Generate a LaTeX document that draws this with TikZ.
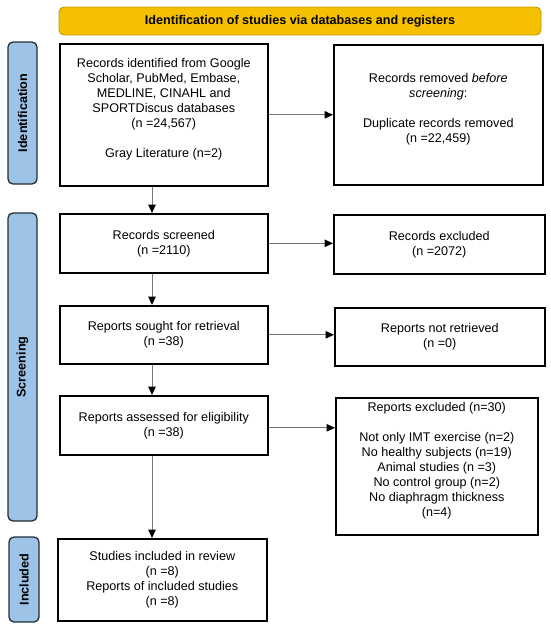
\documentclass[tikz,border=0pt]{standalone}
\usepackage{fontspec}
\setmainfont{Liberation Sans}
\usetikzlibrary{arrows.meta}
\definecolor{gold}{RGB}{245,192,0}
\definecolor{goldline}{RGB}{191,150,0}
\definecolor{phase}{RGB}{157,195,230}
\definecolor{phaseline}{RGB}{35,45,55}
\definecolor{arrowgray}{RGB}{120,120,120}
\begin{document}
\begin{tikzpicture}[x=1pt,y=-1pt,
  every node/.style={font=\fontsize{12.6}{15}\selectfont, inner sep=0pt},
  box/.style={draw=black, line width=1.6pt, fill=white, align=center, anchor=north west},
  lift/.style={text depth=#1},
  phasebox/.style={draw=phaseline, line width=1.3pt, fill=phase, rounded corners=5pt,
    rotate=90, font=\bfseries\fontsize{12.6}{15}\selectfont},
  titlebox/.style={draw=goldline, line width=0.8pt, fill=gold, rounded corners=5pt,
    font=\bfseries\fontsize{12.6}{15}\selectfont},
  flow/.style={draw=arrowgray, line width=1pt,
    -{Triangle[length=8.5pt,width=7.5pt,color=black,fill=black]}}
]
\useasboundingbox (0,0) rectangle (550,629);

% title bar
\node[titlebox, minimum width=482pt, minimum height=28pt] (title) at (300,21)
  {Identification of studies via databases and registers};

% phase labels
\node[phasebox, minimum width=142pt, minimum height=29pt] (phid) at (22.5,113) {Identification};
\node[phasebox, minimum width=308pt, minimum height=29pt] (phscr) at (22.5,367) {Screening};
\node[phasebox, minimum width=85pt, minimum height=30pt] (phinc) at (24,579.5) {Included};

% left column
\node[box, lift=14.7pt, minimum width=208pt, minimum height=142pt] (id) at (59,43)
  {Records identified from Google\\Scholar, PubMed, Embase,\\MEDLINE, CINAHL and\\SPORTDiscus databases\\(n =24,567)\\[15pt]Gray Literature (n=2)};
\node[box, minimum width=208pt, minimum height=59pt] (screened) at (59,213)
  {Records screened\\(n =2110)};
\node[box, minimum width=208pt, minimum height=58pt] (sought) at (59,305)
  {Reports sought for retrieval\\(n =38)};
\node[box, minimum width=208pt, minimum height=59pt] (assessed) at (59,395)
  {Reports assessed for eligibility\\(n =38)};
\node[box, minimum width=209pt, minimum height=82pt] (included) at (57,538)
  {Studies included in review\\(n =8)\\Reports of included studies\\(n =8)};

% right column
\node[box, lift=14.7pt, minimum width=209pt, minimum height=140pt] (removed) at (333,44)
  {Records removed \textit{before}\\\textit{screening}:\\[15pt]Duplicate records removed\\(n =22,459)};
\node[box, minimum width=211pt, minimum height=59pt] (excluded) at (333,214)
  {Records excluded\\(n =2072)};
\node[box, minimum width=210pt, minimum height=58pt] (notret) at (334,307)
  {Reports not retrieved\\(n =0)};
\node[box, lift=13.7pt, minimum width=202pt, minimum height=137pt] (repexcl) at (335,397)
  {Reports excluded (n=30)\\[15pt]Not only IMT exercise (n=2)\\No healthy subjects (n=19)\\Animal studies (n =3)\\No control group (n=2)\\No diaphragm thickness\\(n=4)};

% connectors
\coordinate (vx) at (152,0);
\draw[flow] (id.south -| vx) -- (screened.north -| vx);
\draw[flow] (screened.south -| vx) -- (sought.north -| vx);
\draw[flow] (sought.south -| vx) -- (assessed.north -| vx);
\draw[flow] (assessed.south -| vx) -- (included.north -| vx);

\draw[flow] (id.east) -- (id.east -| removed.west);
\draw[flow] (screened.east) -- (screened.east -| excluded.west);
\draw[flow] (sought.east) -- (sought.east -| notret.west);
\draw[flow] ([yshift=-2.5pt]assessed.east) -- ([yshift=-2.5pt]assessed.east -| repexcl.west);
\end{tikzpicture}
\end{document}
